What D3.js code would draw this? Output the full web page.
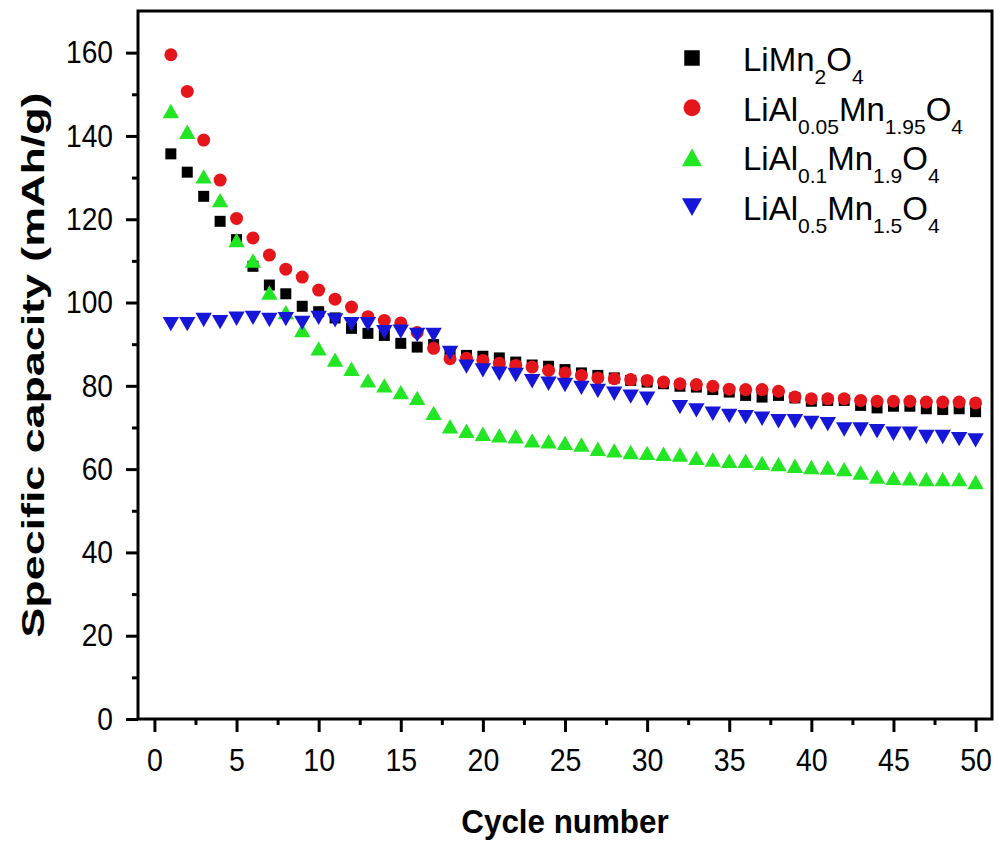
<!DOCTYPE html>
<html><head><meta charset="utf-8">
<script src="https://cdn.jsdelivr.net/npm/d3@7"></script>
<style>
html,body{margin:0;padding:0;background:#fff;}
svg{display:block;}
text{font-family:"Liberation Sans", Arial, Helvetica, sans-serif;fill:#000;}
</style>
</head><body>
<svg id="chart" width="999" height="845"></svg>
<script>
// ---------- data ----------
const cycles = [1,2,3,4,5,6,7,8,9,10,11,12,13,14,15,16,17,18,19,20,21,22,23,24,25,26,27,28,29,30,31,32,33,34,35,36,37,38,39,40,41,42,43,44,45,46,47,48,49,50];
const capLiMn2O4 = [135.7,131.3,125.5,119.5,115.1,108.7,104.2,102.1,99.1,97.8,96.3,93.8,92.6,92.1,90.2,89.3,89.9,87.3,87.3,87.1,86.7,85.7,85.0,84.7,83.9,83.1,82.5,81.9,81.3,80.9,80.5,79.9,79.7,79.1,78.5,77.7,77.3,77.7,77.1,76.3,76.5,76.5,75.3,74.7,75.1,75.1,74.5,74.3,74.5,73.8];
const capAl005 = [159.5,150.7,139.0,129.4,120.2,115.5,111.4,108.0,106.1,103.0,100.8,98.9,96.6,95.7,95.1,92.8,89.0,86.5,86.6,86.1,85.4,84.9,84.5,83.7,83.1,82.5,81.9,81.7,81.5,81.3,80.9,80.5,80.3,79.9,79.2,79.1,79.1,78.7,77.3,76.9,76.9,76.9,76.5,76.3,76.3,76.3,76.1,76.1,76.1,75.9];
const capAl01 = [146.0,141.0,130.3,124.6,115.0,110.1,102.4,97.7,93.4,89.0,86.3,84.1,81.3,80.1,78.5,77.1,73.5,70.3,69.2,68.5,68.1,67.9,66.9,66.7,66.3,65.9,64.9,64.5,64.1,63.9,63.7,63.5,62.7,62.3,62.0,62.0,61.5,61.2,60.8,60.5,60.4,60.0,59.2,58.2,57.9,57.8,57.6,57.6,57.6,56.9];
const capAl05 = [94.8,94.8,95.8,95.3,96.1,96.3,95.8,96.0,95.1,96.3,95.7,94.8,94.8,92.9,93.0,92.2,92.2,87.9,84.6,83.7,82.9,82.6,81.1,80.5,80.2,79.5,78.8,78.1,77.4,76.9,null,74.9,74.1,73.3,72.8,72.5,72.1,71.5,71.5,71.1,70.8,69.5,69.5,69.1,68.5,68.5,67.7,67.7,67.2,66.9];

const xTicks = [0,5,10,15,20,25,30,35,40,45,50];
const xMinorTicks = [2.5,7.5,12.5,17.5,22.5,27.5,32.5,37.5,42.5,47.5];
const yTicks = [0,20,40,60,80,100,120,140,160];
const yMinorTicks = [10,30,50,70,90,110,130,150];

const xTitle = "Cycle number";
const yTitle = "Specific capacity (mAh/g)";

// legend labels as [text, isSubscript] parts
const legendLabels = [
  [["LiMn",0],["2",1],["O",0],["4",1]],
  [["LiAl",0],["0.05",1],["Mn",0],["1.95",1],["O",0],["4",1]],
  [["LiAl",0],["0.1",1],["Mn",0],["1.9",1],["O",0],["4",1]],
  [["LiAl",0],["0.5",1],["Mn",0],["1.5",1],["O",0],["4",1]]
];
const seriesValues = [capLiMn2O4, capAl005, capAl01, capAl05];
const seriesColors = ["#000000", "#e5161b", "#22e624", "#1616d8"];
const seriesShapes = ["square", "circle", "up", "down"];

// ---------- drawing ----------
const svg = d3.select("#chart");
const x = d3.scaleLinear().domain([-1, 51]).range([138, 992]);
const y = d3.scaleLinear().domain([0, 170]).range([719, 11]);

function condense(sel, f) {
  sel.each(function() {
    const w = this.getComputedTextLength();
    d3.select(this).attr("textLength", w * f).attr("lengthAdjust", "spacingAndGlyphs");
  });
}

function markerPath(shape, s) {
  if (shape === "square") return `M${-s/2},${-s/2}h${s}v${s}h${-s}Z`;
  if (shape === "circle") { const r = s/2; return `M${r},0A${r},${r} 0 1,1 ${-r},0A${r},${r} 0 1,1 ${r},0Z`; }
  const w = s * 1.52, h = s * 1.33;
  if (shape === "up") return `M0,${-h/2}L${w/2},${h/2}L${-w/2},${h/2}Z`;
  return `M0,${h/2}L${w/2},${-h/2}L${-w/2},${-h/2}Z`;
}
const dataSize = {square: 11, circle: 13, up: 10.8, down: 10.8};
const legendSize = {square: 15.5, circle: 17, up: 13.2, down: 13.2};

// markers
seriesValues.forEach((vals, i) => {
  const pts = cycles.map((c, j) => ({c, v: vals[j]})).filter(d => d.v !== null);
  svg.append("g").selectAll("path").data(pts).join("path")
    .attr("transform", d => `translate(${x(d.c)},${y(d.v)})`)
    .attr("d", markerPath(seriesShapes[i], dataSize[seriesShapes[i]]))
    .attr("fill", seriesColors[i]);
});

// axes
const yAxis = svg.append("g").attr("transform", "translate(138,0)")
  .call(d3.axisLeft(y).tickValues(yTicks).tickSize(12).tickPadding(13).tickFormat(d3.format("d")));
yAxis.select(".domain").remove();
yAxis.selectAll("line").attr("stroke", "#000").attr("stroke-width", 3);
yAxis.selectAll("text").attr("font-size", 32).attr("font-family", null).call(condense, 0.88);

const yMinor = svg.append("g").attr("transform", "translate(138,0)")
  .call(d3.axisLeft(y).tickValues(yMinorTicks).tickSize(6).tickFormat(""));
yMinor.select(".domain").remove();
yMinor.selectAll("line").attr("stroke", "#000").attr("stroke-width", 3);

const xAxis = svg.append("g").attr("transform", "translate(0,719)")
  .call(d3.axisBottom(x).tickValues(xTicks).tickSize(13).tickPadding(17).tickFormat(d3.format("d")));
xAxis.select(".domain").remove();
xAxis.selectAll("line").attr("stroke", "#000").attr("stroke-width", 3);
xAxis.selectAll("text").attr("font-size", 31).attr("font-family", null).call(condense, 0.92);

const xMinor = svg.append("g").attr("transform", "translate(0,719)")
  .call(d3.axisBottom(x).tickValues(xMinorTicks).tickSize(6).tickFormat(""));
xMinor.select(".domain").remove();
xMinor.selectAll("line").attr("stroke", "#000").attr("stroke-width", 3);

// frame
svg.append("rect")
  .attr("x", x(-1)).attr("y", y(170))
  .attr("width", x(51) - x(-1)).attr("height", y(0) - y(170))
  .attr("fill", "none").attr("stroke", "#000").attr("stroke-width", 3);

// titles
svg.append("text").attr("x", (x(-1) + x(51)) / 2).attr("y", 833)
  .attr("text-anchor", "middle").attr("font-size", 33).attr("font-weight", "bold")
  .text(xTitle).call(condense, 0.95);
svg.append("text").attr("transform", `translate(44,${(y(0)+y(170))/2}) rotate(-90)`)
  .attr("text-anchor", "middle").attr("font-size", 32).attr("font-weight", "bold")
  .text(yTitle).attr("textLength", 545).attr("lengthAdjust", "spacingAndGlyphs");

// legend
const legend = svg.append("g");
legendLabels.forEach((parts, i) => {
  const baseY = 71 + i * 49.7;
  const shape = seriesShapes[i];
  legend.append("path")
    .attr("transform", `translate(692,${baseY - 13})`)
    .attr("d", markerPath(shape, legendSize[shape]))
    .attr("fill", seriesColors[i]);
  const t = legend.append("text").attr("x", 743).attr("y", baseY).attr("font-size", 33);
  parts.forEach(([s, sub]) => {
    t.append("tspan").attr("font-size", sub ? 21 : 33)
      .attr("baseline-shift", sub ? "-13px" : null)
      .text(s);
  });
});
</script>
</body></html>
